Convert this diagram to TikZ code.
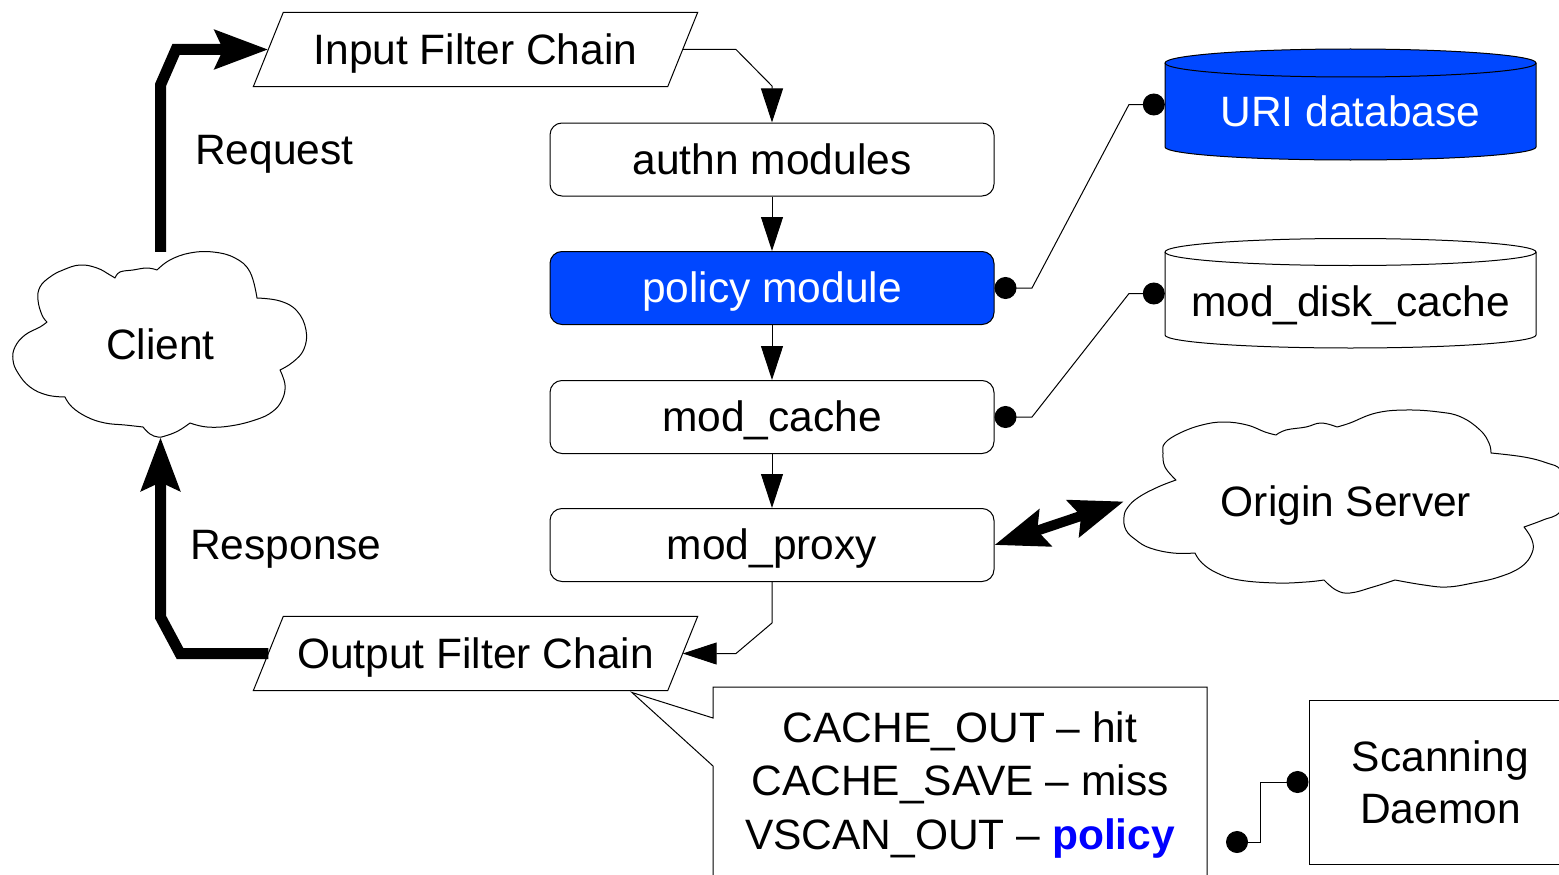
\documentclass[tikz,border=0pt]{standalone}
\usepackage{fontspec}
\setmainfont{Liberation Sans}
\usetikzlibrary{arrows.meta}

\definecolor{dbblue}{RGB}{0,71,255}
\definecolor{hiblue}{RGB}{0,0,255}

\tikzset{
  txt/.style={inner sep=0pt, text height=38pt, text depth=8.9pt},
  box/.style={txt, draw, line width=1pt, rounded corners=12pt,
              minimum width=444pt, minimum height=73pt},
  pgram/.style={txt, minimum width=414pt, minimum height=74pt},
  flow/.style={line width=1pt, -{Triangle[length=34pt,width=22pt]}},
  link/.style={line width=1pt, {Circle[length=22pt,width=22pt]}-{Circle[length=22pt,width=22pt]}},
  bigarrow/.style={line width=11pt, -{Stealth[length=53pt,width=38pt,inset=8pt]}},
  bigdouble/.style={line width=10pt, {Stealth[length=53pt,width=38pt,inset=8pt]}-{Stealth[length=53pt,width=38pt,inset=8pt]}},
  cloudline/.style={line width=1pt, line join=round},
  sm/.style={smooth, tension=0.7}
}

\begin{document}
\begin{tikzpicture}[x=1pt, y=-1pt, font=\fontsize{42.5}{53}\selectfont]
\useasboundingbox (0,0) rectangle (1559,875);

% ---------- client cloud ----------
\draw[cloudline] (157,270)
  -- plot[sm] coordinates {(157,270) (170,260) (190,253) (213,252) (235,258) (250,272) (257,298)}
  -- plot[sm] coordinates {(257,298) (280,301) (297,311) (306,330) (304,349) (293,362) (280,370)}
  -- plot[sm] coordinates {(280,370) (285,385) (282,400) (272,412) (255,420) (230,426) (207,427) (190,423)}
  -- plot[sm] coordinates {(190,423) (178,431) (165,436) (158,437) (150,434) (143,427)}
  -- plot[sm] coordinates {(143,427) (125,425) (105,423) (87,417) (72,407) (65,397)}
  -- plot[sm] coordinates {(65,397) (47,395) (30,387) (18,373) (13,360) (15,347) (25,335) (40,327) (47,322)}
  -- plot[sm] coordinates {(47,322) (42,315) (38,300) (40,287) (50,277) (63,270) (80,265) (97,268) (110,275) (115,278)}
  -- plot[sm] coordinates {(115,278) (120,272) (133,270) (147,268) (157,270)}
  -- cycle;
\node[txt, minimum width=295pt, minimum height=185pt] (client) at (160.5,344.5) {Client};

% ---------- origin server cloud ----------
\draw[cloudline] (1176,480)
  -- plot[sm] coordinates {(1176,480) (1165,467) (1163,453) (1165,443) (1180,433) (1202,425) (1224,422) (1247,425) (1265,432) (1276,435)}
  -- plot[sm] coordinates {(1276,435) (1286,430) (1306,427) (1321,423) (1337,427)}
  -- plot[sm] coordinates {(1337,427) (1350,423) (1376,413) (1406,410) (1439,412) (1461,417) (1480,430) (1489,443) (1491,453)}
  -- plot[sm] coordinates {(1491,453) (1524,457) (1547,463) (1561,470) (1572,490) (1560,512) (1543,520) (1524,527)}
  -- plot[sm] coordinates {(1524,527) (1532,540) (1532,553) (1521,567) (1499,577) (1473,583) (1447,587) (1424,585) (1395,580)}
  -- plot[sm] coordinates {(1395,580) (1373,587) (1350,593) (1336,590) (1324,580)}
  -- plot[sm] coordinates {(1324,580) (1306,582) (1276,583) (1239,580) (1217,573) (1202,563) (1195,553)}
  -- plot[sm] coordinates {(1195,553) (1173,553) (1150,548) (1136,540) (1126,530) (1124,517) (1128,507) (1139,497) (1158,487) (1176,480)}
  -- cycle;
\node[txt, minimum width=444pt, minimum height=185pt] (origin) at (1346,501.5) {Origin Server};

% ---------- filter chains ----------
\node[pgram] (input) at (475.5,49.5) {Input Filter Chain};
\draw[line width=1pt] ([xshift=-15pt]input.south west) -- ([xshift=-15pt]input.south east)
  -- ([xshift=15pt]input.north east) -- ([xshift=15pt]input.north west) -- cycle;

\node[pgram] (output) at (475.5,653.5) {Output Filter Chain};
\draw[line width=1pt] ([xshift=-15pt]output.south west) -- ([xshift=-15pt]output.south east)
  -- ([xshift=15pt]output.north east) -- ([xshift=15pt]output.north west) -- cycle;

% ---------- module chain ----------
\node[box] (authn) at (772,159.5) {authn modules};
\node[box, fill=dbblue, text=white] (policy) at (772,288) {policy module};
\node[box] (cache) at (772,417) {mod\_cache};
\node[box] (proxy) at (772,545) {mod\_proxy};

% ---------- storage cylinders ----------
\filldraw[fill=dbblue, line width=1pt] (1165,63) -- (1165,147)
  arc[start angle=180, end angle=360, x radius=185.5pt, y radius=13pt]
  -- (1536,63)
  arc[start angle=0, end angle=180, x radius=185.5pt, y radius=14pt] -- cycle;
\draw[line width=1pt] (1165,63) arc[start angle=180, end angle=360, x radius=185.5pt, y radius=14pt];
\node[inner sep=0pt, minimum width=371pt, minimum height=111pt] (uri) at (1350.5,104.5) {};
\node[txt, text=white] (urilabel) at (1350.5,112) {URI database};

\draw[line width=1pt] (1165,252) -- (1165,335)
  arc[start angle=180, end angle=360, x radius=185.5pt, y radius=13pt]
  -- (1536,252)
  arc[start angle=0, end angle=180, x radius=185.5pt, y radius=13.5pt] -- cycle;
\draw[line width=1pt] (1165,252) arc[start angle=180, end angle=360, x radius=185.5pt, y radius=13.5pt];
\node[inner sep=0pt, minimum width=371pt, minimum height=109pt] (disk) at (1350.5,293.5) {};
\node[txt] (disklabel) at (1350.5,301.5) {mod\_disk\_cache};

% ---------- labels on the client loop ----------
\node[inner sep=0pt, anchor=base west] (req) at (195,164) {Request};
\node[inner sep=0pt, anchor=base west] (resp) at (190,559) {Response};

% ---------- callout ----------
\draw[line width=1pt] (713,718) -- (713,687) -- (1207,687) -- (1207,890) -- (713,890)
  -- (713,766) -- (632,692.5) -- cycle;
\node[inner sep=0pt, align=center, font=\fontsize{42.5}{53.5}\selectfont] (note) at (960,785)
  {CACHE\_OUT -- hit\\CACHE\_SAVE -- miss\\VSCAN\_OUT -- \textcolor{hiblue}{\textbf{policy}}};

% ---------- scanning daemon ----------
\node[draw, line width=1pt, inner sep=0pt, minimum width=263pt, minimum height=164pt,
      align=center, font=\fontsize{42.5}{52}\selectfont] (scan) at (1440.5,782) {Scanning\\Daemon};
\coordinate (scanend) at (1226,842);

% ---------- connectors ----------
\draw[bigarrow] (client.north) -- (160.5,85) -- (176,49.5) -- (input.west);
\draw[bigarrow] (output.west) -- (180,653.5) -- (160.5,617) -- (client.south);

\draw[flow] (input.east) -- (736,49.5) -- (772,86) -- (authn.north);
\draw[flow] (authn) -- (policy);
\draw[flow] (policy) -- (cache);
\draw[flow] (cache) -- (proxy);
\draw[flow] (proxy.south) -- (772,623) -- (736,653.5) -- (output.east);

\draw[link] (policy.east) -- (1032,288) -- (1129,104.5) -- (uri.west);
\draw[link] (cache.east) -- (1032,417) -- (1129,293.5) -- (disk.west);
\draw[link] (scan.west) -- (1260,782) -- (1260,842) -- (scanend);

\draw[bigdouble] (proxy.east) -- (origin.west);
\end{tikzpicture}
\end{document}
